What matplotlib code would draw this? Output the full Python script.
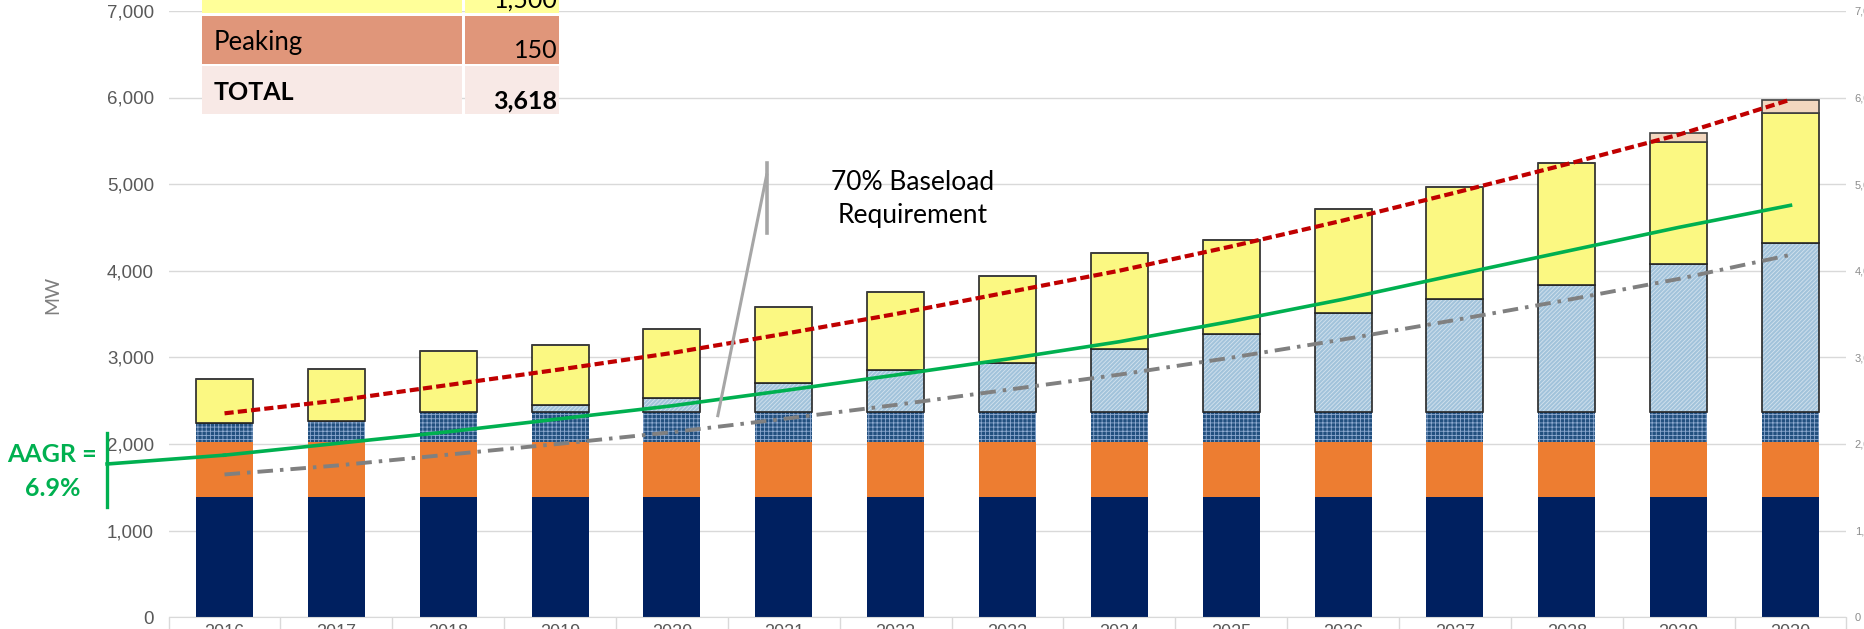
import numpy as np
import matplotlib.pyplot as plt
from matplotlib import font_manager
from matplotlib.patches import Rectangle

# data (MW)
years = [str(y) for y in range(2016, 2031)]
coal = [1390] * 15
gas = [630] * 15
hydro = [225, 244, 345, 345, 345, 345, 345, 345, 345, 345, 345, 345, 345, 345, 345]
new_base = [0, 0, 0, 81, 165, 335, 485, 569, 735, 900, 1143, 1305, 1470, 1716, 1959]
solar = [501, 604, 704, 700, 793, 884, 900, 1005, 1104, 1090, 1201, 1300, 1405, 1402, 1501]
peaking = [0, 0, 0, 0, 0, 0, 0, 0, 0, 0, 0, 0, 0, 104, 146]

peak_demand = [2353, 2500, 2680, 2860, 3050, 3270, 3500, 3750, 4000, 4280, 4580, 4900, 5230, 5570, 5975]
baseload_70 = [1647, 1750, 1876, 2002, 2135, 2289, 2450, 2625, 2800, 2996, 3206, 3430, 3661, 3905, 4183]
demand_aagr = [1870, 2005, 2140, 2290, 2440, 2615, 2795, 2980, 3180, 3415, 3670, 3950, 4225, 4500, 4755]

table_labels = ['', 'Peaking', 'TOTAL']
table_values = ['1,500', '150', '3,618']
table_colors = ['#FFFF99', '#E0967A', '#F8E9E6']

names = {f.name for f in font_manager.fontManager.ttflist}
narrow = 'Liberation Sans Narrow' if 'Liberation Sans Narrow' in names else 'Liberation Sans'
plt.rcParams['font.family'] = ['Lato', 'DejaVu Sans']
plt.rcParams['hatch.linewidth'] = 0.6

W, H = 1864, 629
fig = plt.figure(figsize=(W / 100, H / 100), dpi=100)
ax = fig.add_axes([168.6 / W, (H - 617.1) / H, (1846.4 - 168.6) / W, 7 * 86.6 / H])

x = np.arange(len(years))
bw = 0.51
b1 = np.array(coal)
b2 = b1 + np.array(gas)
b3 = b2 + np.array(hydro)
b4 = b3 + np.array(new_base)
b5 = b4 + np.array(solar)

ax.bar(x, coal, bw, color='#002060', lw=0, zorder=2)
ax.bar(x, gas, bw, bottom=b1, color='#ED7D31', lw=0, zorder=2)
ax.bar(x, hydro, bw, bottom=b2, facecolor='#22507F', edgecolor='#8EAAD0', hatch='++++', lw=0, zorder=2)
ax.bar(x, new_base, bw, bottom=b3, facecolor='#A2C3DB', edgecolor='#D4E3EE', hatch='////////', lw=0, zorder=2)
ax.bar(x, new_base, bw, bottom=b3, fill=False, edgecolor='#262626', lw=1.2, zorder=2)
ax.bar(x, solar, bw, bottom=b4, facecolor='#FBF882', edgecolor='#262626', lw=1.2, zorder=2)
ax.bar(x, peaking, bw, bottom=b5, facecolor='#F2D7BF', edgecolor='#404040', lw=1.2, zorder=2)

green = '#00B050'
ax.plot(x, demand_aagr, color=green, lw=2.6, zorder=4)
ax.plot(x, peak_demand, color='#C00000', lw=3.0, dashes=(2.2, 1.0), zorder=4)
ax.plot(x, baseload_70, color='#808080', lw=2.8, dashes=(4.0, 1.8, 0.9, 1.8), zorder=4)

# AAGR bracket on the left
ax.plot([-1.05, -1.05], [1270, 2126], color=green, lw=2.4, clip_on=False, zorder=4)
ax.plot([-1.05, 0], [1768, demand_aagr[0]], color=green, lw=2.6, clip_on=False, zorder=4)
fig.text(52 / W, 1 - 454 / H, 'AAGR =', color=green, fontsize=18, fontweight='bold',
         ha='center', va='center')
fig.text(52.5 / W, 1 - 489 / H, '6.9%', color=green, fontsize=18, fontweight='bold',
         ha='center', va='center')

# callout for 70% baseload
ax.plot([4.847, 4.847], [4439, 5240], color='#A6A6A6', lw=2.6, zorder=5)
ax.plot([4.847, 4.41], [5105, 2326], color='#A6A6A6', lw=2.2, zorder=5)
ax.text(6.155, 4828, '70% Baseload\nRequirement', ha='center', va='center',
        fontsize=19, linespacing=1.42, color='black')

ax.set_xlim(-0.5, len(years) - 0.5)
ax.set_ylim(0, 7000)
ax.set_yticks(range(0, 7001, 1000))
ax.set_yticklabels([f'{v:,}' for v in range(0, 7001, 1000)], fontfamily=narrow)
ax.tick_params(axis='y', length=0, pad=10.5, labelsize=13.5, labelcolor='#595959')
ax.set_xticks(x)
ax.set_xticklabels(years, fontfamily=narrow)
ax.set_xticks(np.arange(-0.5, len(years), 1), minor=True)
ax.tick_params(axis='x', which='major', length=0, pad=5, labelsize=13, labelcolor='#595959')
ax.tick_params(axis='x', which='minor', length=18, color='#D9D9D9', width=1)
ax.grid(axis='y', color='#D9D9D9', lw=1)
ax.set_axisbelow(True)
for s in ['top', 'right', 'left']:
    ax.spines[s].set_visible(False)
ax.spines['bottom'].set_color('#D9D9D9')

ax2 = ax.twinx()
ax2.set_ylim(0, 7000)
ax2.set_yticks(range(0, 7001, 1000))
ax2.set_yticklabels([f'{v:,}' for v in range(0, 7001, 1000)], fontfamily=narrow)
ax2.tick_params(axis='y', length=0, pad=6, labelsize=8, labelcolor='#8C8C8C')
for s in ax2.spines.values():
    s.set_visible(False)

fig.text(53 / W, 1 - 295 / H, 'MW', rotation=90, color='#7F7F7F', fontsize=14,
         ha='center', va='center')

# partial summary table at top left
row_top = -34.4
for i, (lab, val, col) in enumerate(zip(table_labels, table_values, table_colors)):
    y0 = row_top + i * 50.3
    for cx0, cx1 in [(201.7, 462), (465, 558.7)]:
        fig.add_artist(Rectangle((cx0 / W, 1 - (y0 + 47.7) / H), (cx1 - cx0) / W, 47.7 / H,
                                 transform=fig.transFigure, facecolor=col, lw=0))
    weight = 'bold' if lab == 'TOTAL' else 'normal'
    size = 18 if lab == 'TOTAL' else 18.5
    fig.text(214 / W, 1 - (y0 + 34) / H, lab, fontsize=size, fontweight=weight, va='baseline')
    fig.text(557.5 / W, 1 - (y0 + 42.3) / H, val, fontsize=18, fontweight=weight,
             ha='right', va='baseline')

fig.savefig('out.png', dpi=100)
